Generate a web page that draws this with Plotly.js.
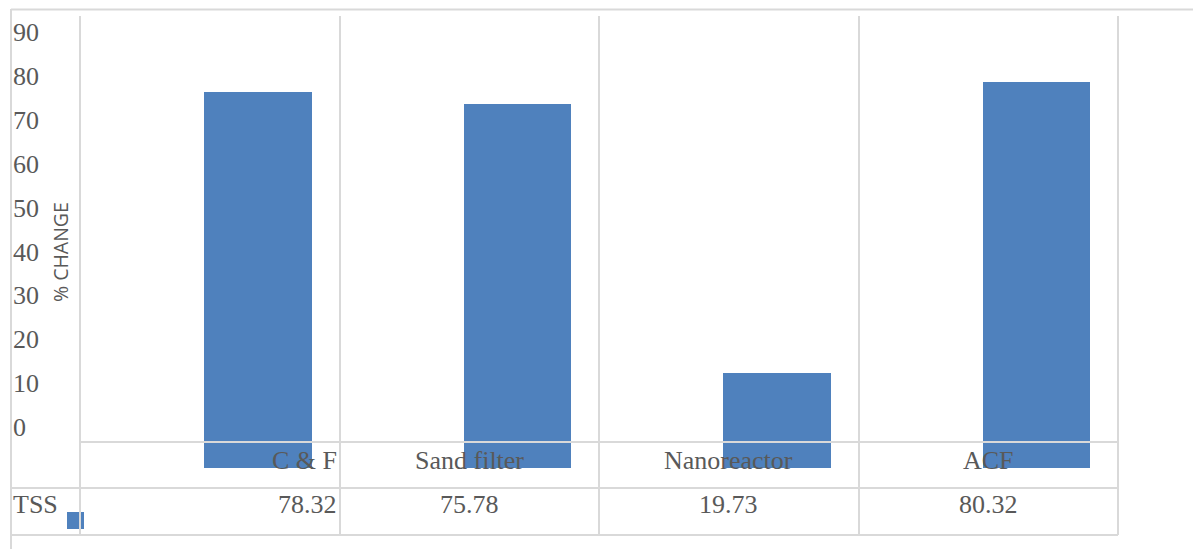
<!DOCTYPE html>
<html>
<head>
<meta charset="utf-8">
<script src="https://cdn.plot.ly/plotly-3.0.1.min.js"></script>
<style>
  html, body { margin: 0; padding: 0; background: #ffffff; }
  #chart { width: 1193px; height: 549px; }
</style>
</head>
<body>
<div id="chart"></div>
<script>
// TSS removal per treatment stage
const categories = ["C & F", "Sand filter", "Nanoreactor", "ACF"];
const tssValues = [78.32, 75.78, 19.73, 80.32];
const seriesName = "TSS";
const yTickValues = [0, 10, 20, 30, 40, 50, 60, 70, 80, 90];
const yTickText = ["0", "10", "20", "30", "40", "50", "60", "70", "80", "90"];

const W = 1193, H = 549;
const px = v => v / W;          // page pixel -> paper x
const py = v => 1 - v / H;      // page pixel -> paper y

const textColor = "#595959";
const lineColor = "#d9d9d9";
const barColor = "#4f81bd";
const serif = "Liberation Serif, Times New Roman, serif";

const trace = {
  type: "bar",
  x: categories,
  y: tssValues,
  name: seriesName,
  width: 0.416,
  offset: -0.022,
  marker: { color: barColor, line: { width: 0 } },
  hoverinfo: "x+y",
  showlegend: false
};

// invisible companion trace so the label axis gets drawn
const labelAxisTrace = {
  type: "scatter",
  x: [categories[0]],
  y: [0],
  yaxis: "y2",
  mode: "markers",
  marker: { opacity: 0 },
  hoverinfo: "skip",
  showlegend: false
};

const annotations = [];
// category row and value row of the data table
categories.forEach((c, i) => {
  const base = {
    xref: "x", yref: "paper",
    x: i === 0 ? i + 0.5 : i,
    xanchor: i === 0 ? "right" : "center",
    xshift: i === 0 ? -1 : 0,
    yanchor: "middle", showarrow: false,
    font: { family: serif, size: 26, color: textColor }
  };
  annotations.push(Object.assign({}, base, { y: py(460), text: c }));
  annotations.push(Object.assign({}, base, { y: py(505), text: tssValues[i].toFixed(2) }));
});
annotations.push({
  xref: "paper", yref: "paper",
  x: px(11), xanchor: "left",
  y: py(505), yanchor: "middle",
  text: seriesName, showarrow: false,
  font: { family: serif, size: 26, color: textColor }
});
annotations.push({
  xref: "paper", yref: "paper",
  x: px(60), xanchor: "center",
  y: py(252), yanchor: "middle",
  text: "% CHANGE", textangle: -90, showarrow: false,
  font: { family: "Open Sans, Liberation Sans, sans-serif", size: 19.5, color: textColor }
});

const hLine = (y, x0, x1, layer) => ({
  type: "line", xref: "paper", yref: "paper",
  x0: px(x0), x1: px(x1), y0: py(y), y1: py(y),
  line: { color: lineColor, width: 2 }, layer: layer || "below"
});
const vLine = (x, y0, y1) => ({
  type: "line", xref: "paper", yref: "paper",
  x0: px(x), x1: px(x), y0: py(y0), y1: py(y1),
  line: { color: lineColor, width: 2 }, layer: "below"
});

const shapes = [
  {                                       // legend key
    type: "rect", xref: "paper", yref: "paper",
    x0: px(67), x1: px(84), y0: py(529), y1: py(512),
    fillcolor: barColor, line: { width: 0 }, layer: "below"
  },
  hLine(9.5, 11, W),                      // outer frame, top
  vLine(11, 9, H),                        // outer frame, left
  vLine(80, 16, 535),                     // outer edges of the plot grid
  vLine(1118, 16, 535),
  hLine(442, 80, 1118, "above"),          // category axis line
  hLine(488, 11, 1118),                   // data table rows
  hLine(535, 11, 1118)
];

const layout = {
  width: W, height: H,
  margin: { l: 0, r: 0, t: 0, b: 0, pad: 0 },
  paper_bgcolor: "#ffffff",
  plot_bgcolor: "rgba(0,0,0,0)",
  showlegend: false,
  bargap: 0,
  xaxis: {
    type: "category",
    domain: [px(80), px(1118)],
    range: [-0.5, 3.5],
    tickson: "boundaries",
    showgrid: true, gridcolor: lineColor, gridwidth: 2,
    showticklabels: false, ticks: "",
    showline: false, zeroline: false,
    fixedrange: true
  },
  yaxis: {
    domain: [1 - 535 / H, 1 - 16 / H],
    range: [-(535 - 468) / 4.8, (468 - 16) / 4.8],
    showgrid: false, zeroline: false, showline: false,
    showticklabels: false, ticks: "",
    fixedrange: true
  },
  yaxis2: {
    overlaying: "y",
    anchor: "free",
    position: px(9),
    side: "left",
    domain: [1 - 535 / H, 1 - 16 / H],
    range: [-(535 - 427) / 4.39, (427 - 16) / 4.39],
    tickmode: "array",
    tickvals: yTickValues,
    ticktext: yTickText,
    ticklabelposition: "inside",
    ticks: "",
    showgrid: false, zeroline: false, showline: false,
    tickfont: { family: serif, size: 26, color: textColor },
    fixedrange: true
  },
  annotations: annotations,
  shapes: shapes,
  font: { family: serif, color: textColor }
};

Plotly.newPlot("chart", [trace, labelAxisTrace], layout, { staticPlot: true, displayModeBar: false });
</script>
</body>
</html>
